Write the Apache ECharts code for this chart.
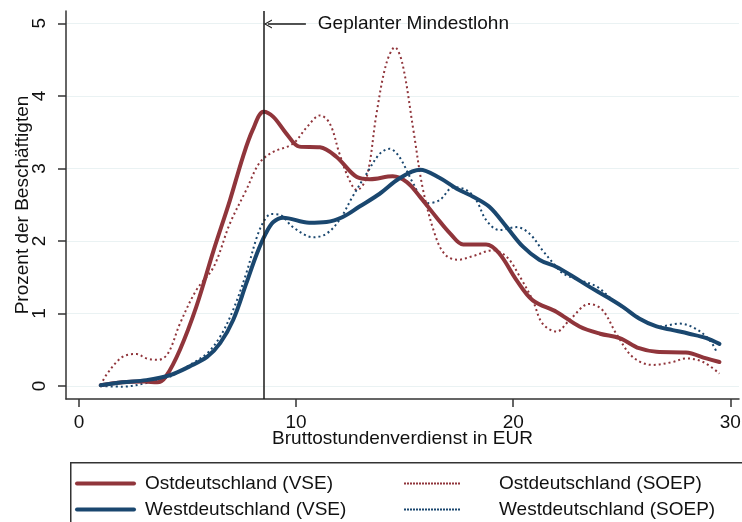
<!DOCTYPE html>
<html>
<head>
<meta charset="utf-8">
<script src="https://cdn.jsdelivr.net/npm/echarts@6/dist/echarts.min.js"></script>
<style>
html,body{margin:0;padding:0;background:#fff;}
#c{width:742px;height:522px;}
</style>
</head>
<body>
<div id="c"></div>
<script>
// ---- Data ----
var seriesNames = ['Ostdeutschland (VSE)', 'Westdeutschland (VSE)', 'Ostdeutschland (SOEP)', 'Westdeutschland (SOEP)'];
var xTicks = [0, 10, 20, 30];
var yTicks = [0, 1, 2, 3, 4, 5];
var xTitle = 'Bruttostundenverdienst in EUR';
var yTitle = 'Prozent der Beschäftigten';
var minWage = 8.5;
var minWageLabel = 'Geplanter Mindestlohn';

var ostVseX = [1.0, 2.0, 3.0, 3.6, 4.0, 4.65, 5.4, 6.2, 6.95, 7.55, 8.0, 8.5, 8.95, 9.55, 10.15, 11.1, 11.85, 12.8, 13.4, 14.45, 15.1, 15.7, 16.45, 17.1, 17.7, 18.75, 19.35, 20.15, 20.9, 22.0, 23.05, 24.0, 24.9, 25.8, 26.6, 27.95, 28.9, 29.5];
var ostVseY = [0.01, 0.05, 0.06, 0.05, 0.13, 0.50, 1.09, 1.87, 2.56, 3.16, 3.53, 3.78, 3.71, 3.48, 3.30, 3.29, 3.16, 2.88, 2.85, 2.89, 2.81, 2.61, 2.33, 2.10, 1.95, 1.95, 1.83, 1.46, 1.18, 1.02, 0.82, 0.72, 0.66, 0.52, 0.47, 0.46, 0.38, 0.33];

var westVseX = [1.0, 2.0, 3.1, 4.2, 5.1, 5.9, 6.5, 7.1, 7.7, 8.2, 8.6, 8.95, 9.4, 10.6, 11.4, 12.15, 12.9, 13.85, 14.75, 15.7, 16.6, 17.4, 18.15, 18.9, 19.7, 20.45, 21.2, 22.0, 22.75, 23.5, 24.3, 25.05, 25.8, 26.6, 27.35, 28.1, 28.9, 29.5];
var westVseY = [0.01, 0.05, 0.08, 0.15, 0.27, 0.40, 0.59, 0.91, 1.41, 1.83, 2.10, 2.26, 2.32, 2.25, 2.26, 2.33, 2.47, 2.65, 2.86, 2.98, 2.87, 2.72, 2.61, 2.47, 2.19, 1.92, 1.74, 1.64, 1.51, 1.37, 1.23, 1.09, 0.93, 0.82, 0.77, 0.72, 0.66, 0.58];

var ostSoepX = [1.0, 1.3, 2.0, 2.65, 3.1, 3.65, 4.1, 4.65, 5.4, 6.2, 6.95, 7.7, 8.3, 8.9, 9.85, 10.5, 11.1, 11.55, 12.0, 12.45, 12.8, 13.25, 13.7, 14.15, 14.55, 14.9, 15.4, 15.85, 16.45, 16.9, 17.45, 18.15, 19.05, 19.7, 20.3, 20.9, 21.35, 22.0, 22.6, 23.5, 24.1, 24.75, 25.5, 26.4, 27.35, 27.95, 28.75, 29.5];
var ostSoepY = [0.01, 0.17, 0.40, 0.44, 0.38, 0.36, 0.45, 0.86, 1.32, 1.64, 2.24, 2.70, 3.07, 3.22, 3.34, 3.57, 3.73, 3.62, 3.20, 2.84, 2.70, 2.88, 3.75, 4.44, 4.67, 4.44, 3.53, 2.70, 2.04, 1.80, 1.74, 1.79, 1.87, 1.78, 1.51, 1.18, 0.86, 0.75, 0.91, 1.13, 1.05, 0.72, 0.40, 0.29, 0.33, 0.38, 0.33, 0.17];

var westSoepX = [1.0, 2.0, 3.1, 4.2, 5.1, 5.9, 6.5, 7.1, 7.7, 8.2, 8.55, 8.85, 9.25, 9.85, 10.8, 11.4, 12.0, 12.6, 13.25, 13.85, 14.3, 14.75, 15.4, 16.0, 16.6, 17.25, 17.85, 18.3, 18.75, 19.35, 20.15, 20.75, 21.35, 21.85, 22.3, 23.05, 23.85, 24.6, 25.2, 26.1, 26.75, 27.65, 28.4, 29.05, 29.4];
var westSoepY = [0.0, -0.01, 0.04, 0.13, 0.29, 0.45, 0.68, 1.05, 1.55, 2.06, 2.29, 2.37, 2.36, 2.19, 2.05, 2.10, 2.29, 2.61, 2.93, 3.20, 3.27, 3.16, 2.79, 2.52, 2.56, 2.74, 2.70, 2.56, 2.29, 2.15, 2.19, 2.10, 1.87, 1.69, 1.55, 1.46, 1.37, 1.18, 1.05, 0.89, 0.82, 0.86, 0.79, 0.63, 0.45];

// ---- Build ----
function pairs(xs, ys) { return xs.map(function (x, i) { return [x, ys[i]]; }); }
var RED = '#90353b', BLUE = '#1a476f';
var FONT = 'Liberation Sans, Arial, sans-serif';
var FS = 19;

var chart = echarts.init(document.getElementById('c'), null, { renderer: 'canvas' });

function lineSeries(name, xs, ys, color, dotted) {
  return {
    name: name, type: 'line', data: pairs(xs, ys), smooth: 0.35, symbol: 'none', z: dotted ? 3 : 4,
    lineStyle: { color: color, width: dotted ? 2 : 4, type: dotted ? [2, 3] : 'solid', cap: dotted ? 'butt' : 'round' },
    itemStyle: { color: color }
  };
}

var series = [
  lineSeries(seriesNames[2], ostSoepX, ostSoepY, RED, true),
  lineSeries(seriesNames[3], westSoepX, westSoepY, BLUE, true),
  lineSeries(seriesNames[0], ostVseX, ostVseY, RED, false),
  lineSeries(seriesNames[1], westVseX, westVseY, BLUE, false)
];
series[3].markLine = {
  silent: true, symbol: ['none', 'none'], animation: false,
  lineStyle: { color: '#1a1a1a', width: 1.5, type: 'solid' },
  label: { show: false },
  data: [
    { xAxis: minWage },
    [
      { coord: [minWage + 1.95, 4.99], symbol: 'none' },
      { coord: [minWage + 0.2, 4.99], symbol: 'path://M5,0 L10,10 L8.6,10 L5,2.6 L1.4,10 L0,10 Z', symbolSize: [9, 8] }
    ]
  ]
};
series[3].markPoint = {
  silent: true, animation: false, symbol: 'circle', symbolSize: 0,
  data: [{ coord: [minWage + 2.5, 4.99], value: 0 }],
  label: { show: true, position: 'right', distance: 0, formatter: minWageLabel, color: '#111', fontSize: FS, fontFamily: FONT }
};

var legendCommon = {
  top: 474, orient: 'vertical', itemGap: 7, itemWidth: 57, itemHeight: 14, padding: 0,
  itemStyle: { opacity: 0, borderWidth: 0 },
  selectedMode: false
};

chart.setOption({
  animation: false,
  backgroundColor: '#fff',
  textStyle: { fontFamily: FONT },
  grid: { left: 66, top: 11, right: 3, bottom: 123, containLabel: false, outerBoundsMode: 'none' },
  xAxis: {
    type: 'value', min: -0.6, max: 30.4,
    name: xTitle, nameLocation: 'middle', nameGap: 30, nameMoveOverlap: false,
    nameTextStyle: { fontSize: FS, color: '#111', fontFamily: FONT },
    axisLine: { show: true, onZero: false, lineStyle: { color: '#333', width: 1.5 } },
    axisTick: { show: true, length: 8, customValues: xTicks, lineStyle: { color: '#333', width: 1.5 } },
    axisLabel: { customValues: xTicks, fontSize: FS, color: '#111', margin: 14, fontFamily: FONT },
    splitLine: { show: false }
  },
  yAxis: {
    type: 'value', min: -0.18, max: 5.17,
    name: yTitle, nameLocation: 'middle', nameGap: 34, nameRotate: 90, nameMoveOverlap: false,
    nameTextStyle: { fontSize: FS, color: '#111', fontFamily: FONT },
    axisLine: { show: true, onZero: false, lineStyle: { color: '#333', width: 1.5 } },
    axisTick: { show: true, length: 8, customValues: yTicks, lineStyle: { color: '#333', width: 1.5 } },
    axisLabel: { customValues: yTicks, fontSize: FS, color: '#111', margin: 17, rotate: 90, fontFamily: FONT },
    splitLine: { show: true, lineStyle: { color: '#eaf2f3', width: 1.2 } }
  },
  legend: [
    Object.assign({}, legendCommon, {
      left: 75,
      data: [seriesNames[0], seriesNames[1]],
      lineStyle: { width: 4, cap: 'round' },
      textStyle: { fontSize: FS, color: '#111', fontFamily: FONT, padding: [0, 0, 0, 6] }
    }),
    Object.assign({}, legendCommon, {
      left: 403,
      data: [seriesNames[2], seriesNames[3]],
      lineStyle: { width: 2, type: [2, 1] },
      textStyle: { fontSize: FS, color: '#111', fontFamily: FONT, padding: [0, 0, 0, 33] }
    })
  ],
  graphic: [
    { type: 'rect', left: 70, top: 462, z: -1, shape: { width: 690, height: 80 }, style: { fill: '#fff', stroke: '#333', lineWidth: 1.5 } }
  ],
  series: series
});
</script>
</body>
</html>
